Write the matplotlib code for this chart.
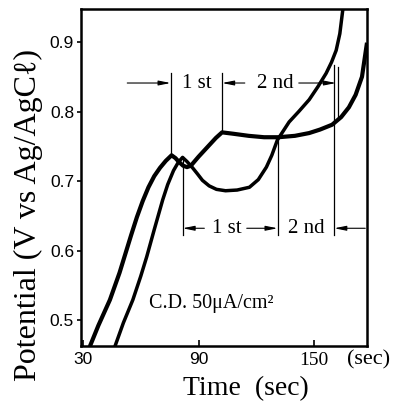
"""Curve potenziale-tempo a densità di corrente costante (C.D. 50 uA/cm2)."""
import matplotlib
matplotlib.use("Agg")
import matplotlib.pyplot as plt

# curva di sinistra
t_a = [33.6, 38, 44, 49, 55, 58, 61, 64, 67, 70, 73, 76, 78, 80, 82, 84, 86, 90, 95, 99,
       102.2, 108, 116, 124, 131.5, 140, 147.4, 153, 159.3, 164, 168, 171.5, 174.8, 177.4]
v_a = [0.462, 0.492, 0.529, 0.568, 0.622, 0.648, 0.671, 0.691, 0.707, 0.719, 0.729, 0.737,
       0.733, 0.727, 0.722, 0.720, 0.722, 0.735, 0.750, 0.762, 0.770, 0.768, 0.765, 0.763,
       0.763, 0.765, 0.769, 0.774, 0.781, 0.792, 0.806, 0.824, 0.850, 0.899]

# curva di destra
t_b = [46.6, 51, 55.9, 60, 63.1, 67, 71.4, 74, 77, 79.5, 81.7, 84, 86.9, 89.5, 92, 95.5,
       99.3, 104, 110, 116.4, 121, 125.2, 128, 130.9, 137, 142, 147.4, 152, 156.2, 159,
       161.4, 163.3, 165]
v_b = [0.462, 0.496, 0.529, 0.563, 0.591, 0.630, 0.673, 0.695, 0.715, 0.727, 0.734, 0.728,
       0.719, 0.710, 0.701, 0.693, 0.688, 0.686, 0.687, 0.691, 0.702, 0.720, 0.737, 0.759,
       0.785, 0.800, 0.817, 0.836, 0.855, 0.871, 0.888, 0.912, 0.950]

# linee verticali delle transizioni: (tempo, potenziale basso, potenziale alto)
marks = [(75.5, 0.737, 0.856), (102.2, 0.770, 0.856), (160.4, 0.622, 0.867),
         (162.5, 0.790, 0.864), (81.7, 0.622, 0.734), (131.0, 0.622, 0.760)]
# frecce: (coda, punta, potenziale)
arrows = [(53.0, 75.5, 0.841), (114.0, 102.2, 0.841), (142.0, 161.3, 0.841),
          (93.0, 81.7, 0.632), (115.0, 131.0, 0.632), (176.5, 160.4, 0.632)]
# etichette degli stadi: (testo, tempo, potenziale)
stages = [("1 st", 89.0, 0.841), ("2 nd", 130.0, 0.841),
          ("1 st", 104.5, 0.632), ("2 nd", 146.0, 0.632)]

x_ticks = [30, 90, 150]
y_ticks = [0.5, 0.6, 0.7, 0.8, 0.9]

SERIF = ["Liberation Serif", "DejaVu Serif"]
SANS = ["Liberation Sans", "DejaVu Sans"]

fig = plt.figure(figsize=(4.09, 4.01), dpi=100)
ax = fig.add_axes([81 / 409, 1 - 346 / 401, 286 / 409, 337 / 401])

ax.plot(t_a, v_a, color="black", lw=3.0, solid_capstyle="butt")
ax.plot(t_b, v_b, color="black", lw=2.5, solid_capstyle="butt")

for t, lo, hi in marks:
    ax.plot([t, t], [lo, hi], color="black", lw=0.9)
for t0, t1, v in arrows:
    ax.annotate("", xy=(t1, v), xytext=(t0, v),
                arrowprops=dict(arrowstyle="-|>,head_length=0.7,head_width=0.14",
                                color="black", lw=0.8, shrinkA=0, shrinkB=0))
for s, t, v in stages:
    ax.text(t, v, s, ha="center", va="center", fontsize=15, family=SERIF,
            bbox=dict(facecolor="white", edgecolor="none", pad=0.5))

ax.text(96.7, 0.524, "C.D. 50μA/cm²", ha="center", va="center", fontsize=14.5, family=SERIF)

ax.set_xlim(29, 177.4)
ax.set_ylim(0.4626, 0.9475)
ax.set_xticks(x_ticks)
ax.set_xticklabels([str(x) for x in x_ticks])
ax.set_yticks(y_ticks)
ax.set_yticklabels([f"{y:.1f}" for y in y_ticks])
ax.tick_params(axis="x", direction="in", length=4, width=1.2, pad=4, labelsize=12.5)
ax.tick_params(axis="y", direction="out", length=3, width=1.2, pad=2, labelsize=12.5)
for lab in ax.get_xticklabels() + ax.get_yticklabels():
    lab.set_fontfamily(SANS)
ax.get_xticklabels()[-1].set_fontfamily(SERIF)
ax.get_xticklabels()[-1].set_fontsize(14)
for sp in ax.spines.values():
    sp.set_linewidth(1.8)

fig.text(369 / 409, 1 - 360 / 401, "(sec)", ha="center", va="center", fontsize=16, family=SERIF)
fig.text(246 / 409, 1 - 389 / 401, "Time  (sec)", ha="center", va="center", fontsize=20,
         family=SERIF)
fig.text(28 / 409, 1 - 215 / 401, "Potential (V vs Ag/AgCℓ)", ha="center", va="center",
         rotation=90, fontsize=23, family=SERIF)

fig.savefig("out.png", dpi=100)
